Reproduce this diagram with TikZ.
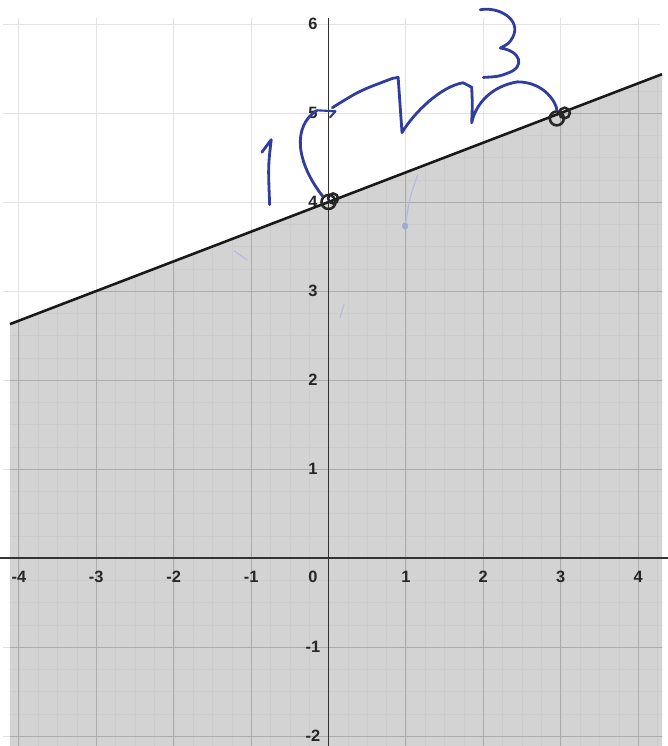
\documentclass[tikz,border=0pt]{standalone}
\usepackage{fontspec}
\setmainfont{Liberation Sans}
\usepackage{xcolor}
\usetikzlibrary{positioning}
\definecolor{penblue}{HTML}{2F3E9E}
\definecolor{shadegray}{HTML}{D3D3D3}

\begin{document}
\begin{tikzpicture}[x=2.322cm,y=2.67cm,font=\bfseries\fontsize{14}{16}\selectfont,
  tick/.style={inner sep=1pt,text=black!85},
  ink/.style={penblue,line width=2.4pt,line cap=round,line join=round},
  faint/.style={penblue!35,line width=1pt,line cap=round},
  dotring/.style={circle,draw=black!85,line width=2.2pt,minimum size=0.42cm,inner sep=0pt}]
  \useasboundingbox (-4.244,-2.112) rectangle (4.386,6.270);
  % open grid
  \draw[gray!22,line width=0.7pt] (-4.21,-2.112) grid[step=1] (4.28,6.07);
  % shaded half plane
  \coordinate (lft) at (-4.115,{-4.115/3+4});
  \coordinate (rgt) at (4.309,{4.309/3+4});
  \fill[shadegray] (-4.115,-2.112) -- (lft) -- (rgt) -- (4.309,-2.112) -- cycle;
  \begin{scope}
    \clip (-4.115,-2.112) -- (lft) -- (rgt) -- (4.309,-2.112) -- cycle;
    \draw[gray!40,line width=0.3pt] (-4.2,-2.2) grid[step=0.25] (4.4,6.3);
    \draw[gray!65,line width=0.8pt] (-4.2,-2.2) grid[step=1] (4.4,6.3);
  \end{scope}
  % axes
  \draw[black!80,line width=1pt] (-4.244,0) -- (4.386,0);
  \draw[black!80,line width=1pt] (0,-2.112) -- (0,6.07);
  % tick labels
  \foreach \x in {-4,-3,-2,-1,1,2,3,4}
    \node[tick] (xt\x) at (\x,-0.21) {\x};
  \node[tick] (xt0) at (-0.2,-0.21) {0};
  \foreach \y in {-2,-1,1,2,3,4,5,6}
    \node[tick] (yt\y) at (-0.2,\y) {\y};
  % boundary line
  \draw[black!90,line width=2.2pt] (lft) -- (rgt);
  % marked points
  \node[dotring] (ptA) at (0,4) {};
  \node[dotring,minimum size=0.3cm] (ptAb) at (0.06,4.04) {};
  \node[dotring] (ptB) at (2.95,4.94) {};
  \node[dotring,minimum size=0.32cm] (ptBb) at (3.05,5.0) {};
  % pen marks: rise 1
  \draw[ink] (-0.86,4.56) -- (-0.74,4.70) .. controls (-0.78,4.40) .. (-0.76,3.97);
  \draw[ink] (ptA.north west) .. controls (-0.42,4.45) and (-0.47,4.85) .. (-0.15,5.03);
  \draw[ink,line width=1.8pt] (-0.14,5.03) -- (0.09,5.02) -- (0.02,4.95);
  % pen marks: run 3
  \draw[ink] (0.05,5.06) .. controls (0.40,5.25) .. (0.83,5.39) -- (0.90,5.40)
    .. controls (0.93,5.10) .. (0.95,4.78)
    .. controls (1.10,5.00) and (1.45,5.30) .. (1.74,5.34) -- (1.85,5.29)
    .. controls (1.86,5.10) .. (1.85,4.89)
    .. controls (1.90,5.10) and (2.10,5.30) .. (2.44,5.35)
    .. controls (2.80,5.35) and (2.95,5.10) .. (ptB.north);
  \draw[ink] (1.96,6.16) .. controls (2.20,6.20) and (2.50,6.05) .. (2.38,5.85)
    .. controls (2.33,5.78) .. (2.22,5.73)
    .. controls (2.48,5.70) and (2.55,5.52) .. (2.32,5.45)
    .. controls (2.20,5.41) .. (2.00,5.40);
  % stray faint marks
  \draw[faint] (1.15,4.30) .. controls (1.05,4.05) .. (0.99,3.73);
  \fill[penblue!45] (0.99,3.73) circle (0.04);
  \draw[faint] (-1.22,3.45) -- (-1.05,3.35);
  \draw[faint] (0.15,2.70) -- (0.20,2.85);
\end{tikzpicture}
\end{document}
